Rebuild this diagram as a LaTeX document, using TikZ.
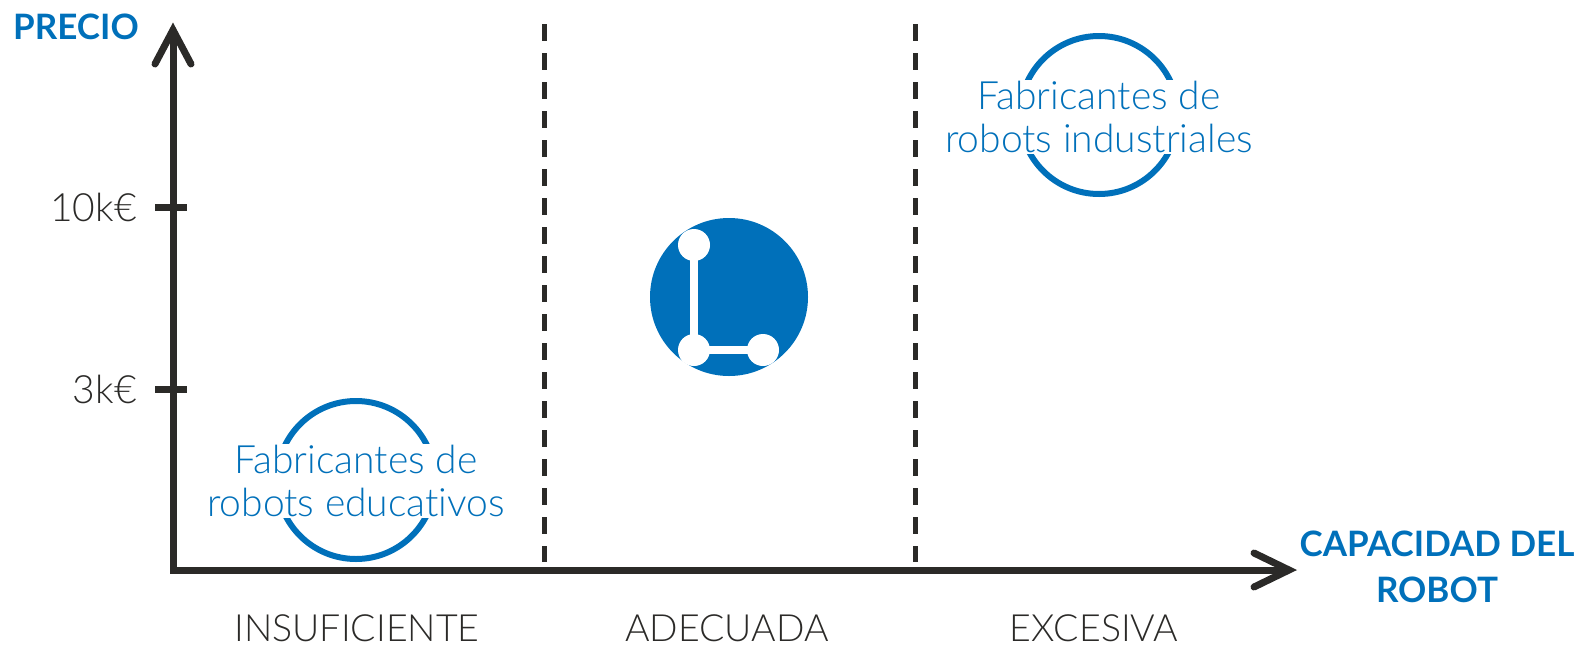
\documentclass[tikz,border=0pt]{standalone}
\usepackage{fontspec}
\setmainfont{Lato Light}[BoldFont={Lato Bold},Ligatures={NoCommon,NoRequired,NoContextual}]
\definecolor{brandblue}{HTML}{0070BA}
\definecolor{dark}{HTML}{2B2A28}
\begin{document}
\begin{tikzpicture}[x=1pt,y=-1pt,
  axisline/.style={draw=dark, line width=7pt, line join=miter, line cap=butt},
  chevron/.style={draw=dark, line width=7pt, line join=miter, line cap=round},
  tickline/.style={draw=dark, line width=7pt},
  divider/.style={draw=dark, line width=5pt, dash pattern=on 17pt off 12pt},
  ring/.style={draw=brandblue, line width=6pt},
  ringlabel/.style={fill=white, text=brandblue, align=center, inner sep=1pt,
    font=\fontsize{39}{43}\selectfont},
  ticklabel/.style={text=dark, inner sep=0pt, anchor=east, font=\fontsize{39}{43}\selectfont},
  zonelabel/.style={text=dark, inner sep=0pt, anchor=base, font=\fontsize{37.5}{43}\selectfont},
  axislabel/.style={text=brandblue, inner sep=0pt, align=center, font=\bfseries\fontsize{35}{46}\selectfont}]
\useasboundingbox (0,0) rectangle (1580,646);
% axes
\coordinate (O) at (173,570);
\coordinate (ytip) at (173,30);
\coordinate (xtip) at (1289,570);
\coordinate (yl) at (155,64);
\coordinate (yr) at (191,64);
\coordinate (xu) at (1254,553);
\coordinate (xd) at (1254,587);
\draw[axisline] (ytip) -- (O) -- (xtip);
\draw[chevron] (yl) -- (ytip) -- (yr);
\draw[chevron] (xu) -- (xtip) -- (xd);
% ticks
\coordinate (t10a) at (155,207); \coordinate (t10b) at (187,207);
\coordinate (t3a) at (155,389); \coordinate (t3b) at (187,389);
\draw[tickline] (t10a) -- (t10b);
\draw[tickline] (t3a) -- (t3b);
\node[ticklabel] (l10) at (137,207) {10k€};
\node[ticklabel] (l3) at (137,389) {3k€};
% dividers
\coordinate (d1a) at (544,24); \coordinate (d1b) at (544,562);
\coordinate (d2a) at (915,24); \coordinate (d2b) at (915,562);
\draw[divider] (d1a) -- (d1b);
\draw[divider] (d2a) -- (d2b);
% axis labels
\node[axislabel, anchor=base] (precio) at (76,39) {PRECIO};
\node[axislabel] (capacidad) at (1437,567) {CAPACIDAD DEL\\ROBOT};
% zone labels
\node[zonelabel] (z1) at (357,641) {INSUFICIENTE};
\node[zonelabel] (z2) at (727,641) {ADECUADA};
\node[zonelabel] (z3) at (1094,641) {EXCESIVA};
% rings
\draw[ring] (356,480) circle (79);
\node[ringlabel] (edu) at (356,481) {Fabricantes de\\robots educativos};
\draw[ring] (1099,115) circle (79);
\node[ringlabel] (ind) at (1099,117) {Fabricantes de\\robots industriales};
% logo
\fill[brandblue] (729,297) circle (79);
\coordinate (p1) at (694,245);
\coordinate (p2) at (694,350);
\coordinate (p3) at (763,350);
\draw[white, line width=8pt] (p1) -- (p2) -- (p3);
\fill[white] (p1) circle (16) (p2) circle (16) (p3) circle (16);
\end{tikzpicture}
\end{document}
